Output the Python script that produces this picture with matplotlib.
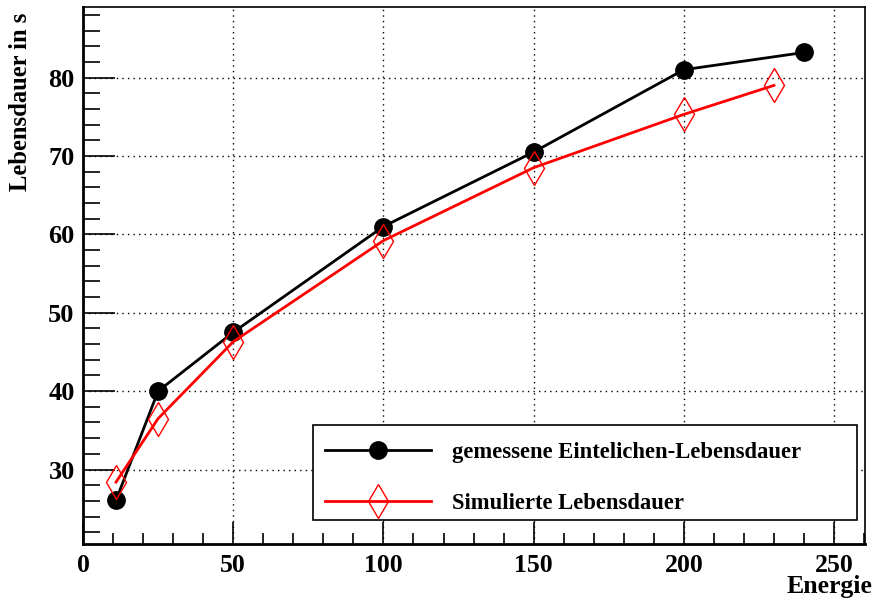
import matplotlib
matplotlib.use("Agg")
import matplotlib.pyplot as plt
from matplotlib.ticker import MultipleLocator
from matplotlib.lines import Line2D
from matplotlib.patches import Rectangle

# Measured lifetime vs. energy
energie_mess = [11, 25, 50, 100, 150, 200, 240]
lebensdauer_mess = [26.1, 40.0, 47.5, 61.0, 70.5, 81.0, 83.2]

# Simulated lifetime vs. energy
energie_sim = [11, 25, 50, 100, 150, 200, 230]
lebensdauer_sim = [28.4, 36.5, 46.3, 59.2, 68.5, 75.3, 79.0]

label_mess = "gemessene Eintelichen-Lebensdauer"
label_sim = "Simulierte Lebensdauer"

plt.rcParams["font.family"] = ["Liberation Serif", "DejaVu Serif"]
plt.rcParams["font.weight"] = "bold"

fig = plt.figure(figsize=(8.75, 6.03), dpi=100)
W, H = 875, 603
ax = fig.add_axes([83 / W, 1 - 544 / H, (865 - 83) / W, (544 - 7) / H])

ax.plot(energie_mess, lebensdauer_mess, color="black", lw=2.0,
        marker="o", markersize=12.5, markerfacecolor="black",
        markeredgecolor="black", zorder=3)
ax.plot(energie_sim, lebensdauer_sim, color="red", lw=2.0,
        marker="d", markersize=17, markerfacecolor="none",
        markeredgecolor="red", markeredgewidth=1.0, zorder=4)

ax.set_xlim(0, 260.3)
ax.set_ylim(20.5, 89.0)

ax.xaxis.set_major_locator(MultipleLocator(50))
ax.xaxis.set_minor_locator(MultipleLocator(10))
ax.yaxis.set_major_locator(MultipleLocator(10))
ax.yaxis.set_minor_locator(MultipleLocator(2))
ax.set_yticks([30, 40, 50, 60, 70, 80])

ax.tick_params(axis="x", which="major", direction="in", length=16, width=1.2,
               labelsize=18.5, pad=7, top=False)
ax.tick_params(axis="x", which="minor", direction="in", length=8, width=1.2, top=False)
ax.tick_params(axis="y", which="major", direction="in", length=23, width=1.2,
               labelsize=19, pad=6, right=False)
ax.tick_params(axis="y", which="minor", direction="in", length=12, width=1.2, right=False)
for lab in ax.get_xticklabels() + ax.get_yticklabels():
    lab.set_fontweight("bold")

ax.grid(True, which="major", color="black", linestyle=(0, (1, 3)), linewidth=1.0)
ax.set_axisbelow(True)

for side in ["left", "bottom"]:
    ax.spines[side].set_linewidth(2.0)
for side in ["top", "right"]:
    ax.spines[side].set_linewidth(1.2)

fig.text(21 / W, 1 - 13 / H, "Lebensdauer in s", rotation=90,
         ha="center", va="top", fontsize=17.7, fontweight="bold")
fig.text(872 / W, 1 - 593 / H, "Energie", ha="right", va="baseline",
         fontsize=18.5, fontweight="bold")

# Legend box (axes fraction), drawn as its own patch
AXW, AXH = 782, 537
box_x0, box_y0 = (313 - 83) / AXW, (544 - 520) / AXH
box_w, box_h = (857 - 313) / AXW, (520 - 425) / AXH
ax.add_patch(Rectangle((box_x0, box_y0), box_w, box_h, transform=ax.transAxes,
                       facecolor="white", edgecolor="black", linewidth=1.2,
                       zorder=5))

handles = [
    Line2D([], [], color="black", lw=2.0, marker="o", markersize=12.5,
           markerfacecolor="black"),
    Line2D([], [], color="red", lw=2.0, marker="d", markersize=17,
           markerfacecolor="none", markeredgecolor="red", markeredgewidth=1.0),
]
shift = 5.5 / AXH
leg = ax.legend(handles, [label_mess, label_sim],
                loc="center left",
                bbox_to_anchor=(box_x0, box_y0 - shift, box_w, box_h),
                mode="expand", frameon=False,
                handlelength=4.65, handletextpad=0.95,
                borderpad=0.55, labelspacing=1.33, borderaxespad=0,
                prop={"size": 16.3, "weight": "bold"})
leg.set_zorder(6)

fig.savefig("out.png", dpi=100)
